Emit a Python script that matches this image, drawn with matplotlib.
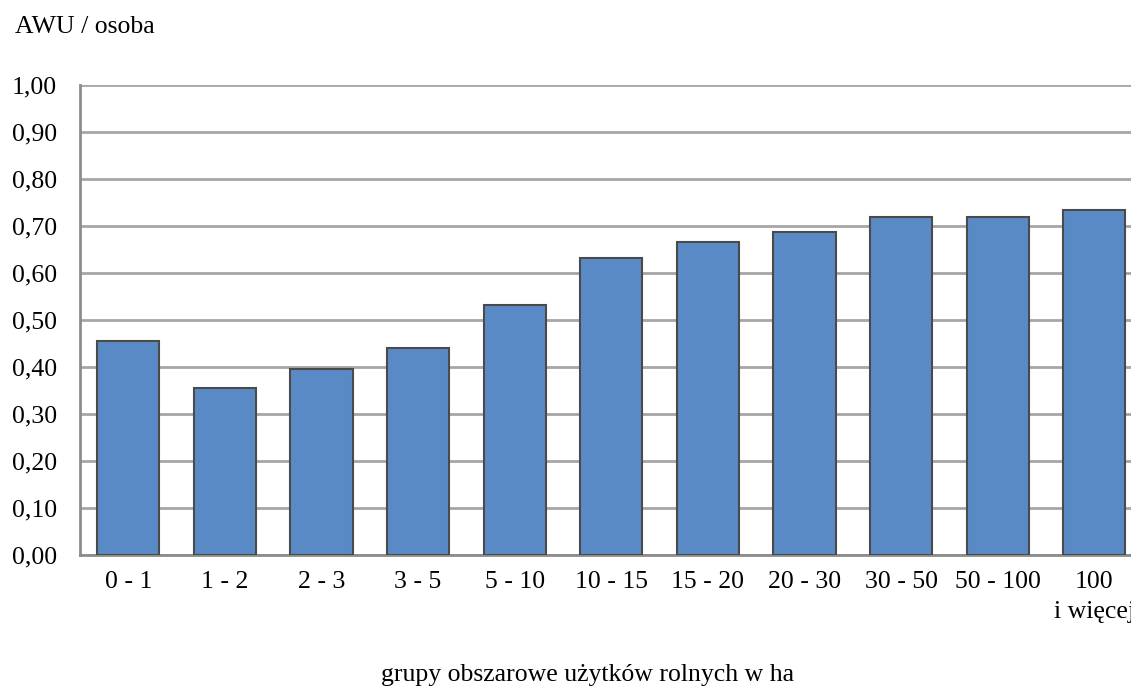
import matplotlib.pyplot as plt
import numpy as np

# ---------- Data ----------
groups = ["0 - 1", "1 - 2", "2 - 3", "3 - 5", "5 - 10", "10 - 15", "15 - 20",
          "20 - 30", "30 - 50", "50 - 100", "100\ni więcej"]
awu_per_person = [0.455, 0.355, 0.396, 0.440, 0.532, 0.632, 0.665, 0.687, 0.719, 0.719, 0.734]
yticks = [0.0, 0.1, 0.2, 0.3, 0.4, 0.5, 0.6, 0.7, 0.8, 0.9, 1.0]

plt.rcParams['font.family'] = ['Liberation Serif', 'DejaVu Serif']
FS = 18.5

W, H = 1131, 689
fig = plt.figure(figsize=(W / 100, H / 100), dpi=100)
# axes runs past the right edge, like the cropped original
ax = fig.add_axes([80 / W, (H - 555) / H, 1062.6 / W, 470 / H])

x = np.arange(len(groups))
ax.bar(x, awu_per_person, width=0.645, color="#5a8ac6", edgecolor="#4a4a4a",
       linewidth=1.5, zorder=3)

ax.set_xlim(-0.5, len(groups) - 0.5)
ax.set_ylim(0, 1.0)
ax.set_yticks(yticks)
ax.set_yticklabels([f"{v:.2f}".replace(".", ",") for v in yticks])
ax.set_xticks(x)
ax.set_xticklabels(groups, linespacing=1.5)
ax.tick_params(axis="both", length=0, labelsize=FS, colors="black")
ax.tick_params(axis="y", pad=16.5)
ax.tick_params(axis="x", pad=11.5)
for lbl in ax.get_xticklabels():
    lbl.set_verticalalignment("top")

ax.yaxis.grid(True, color="#a6a6a6", linewidth=2, zorder=0)
ax.set_axisbelow(True)
for side in ["top", "right"]:
    ax.spines[side].set_visible(False)
for side in ["left", "bottom"]:
    ax.spines[side].set_color("#8c8c8c")
    ax.spines[side].set_linewidth(2)

fig.text(15 / W, 1 - 27 / H, "AWU / osoba", fontsize=FS, ha="left", va="center")
fig.text(588 / W, 1 - 681 / H, "grupy obszarowe użytków rolnych w ha",
         fontsize=FS, ha="center", va="baseline")

fig.savefig("out.png", dpi=100)
